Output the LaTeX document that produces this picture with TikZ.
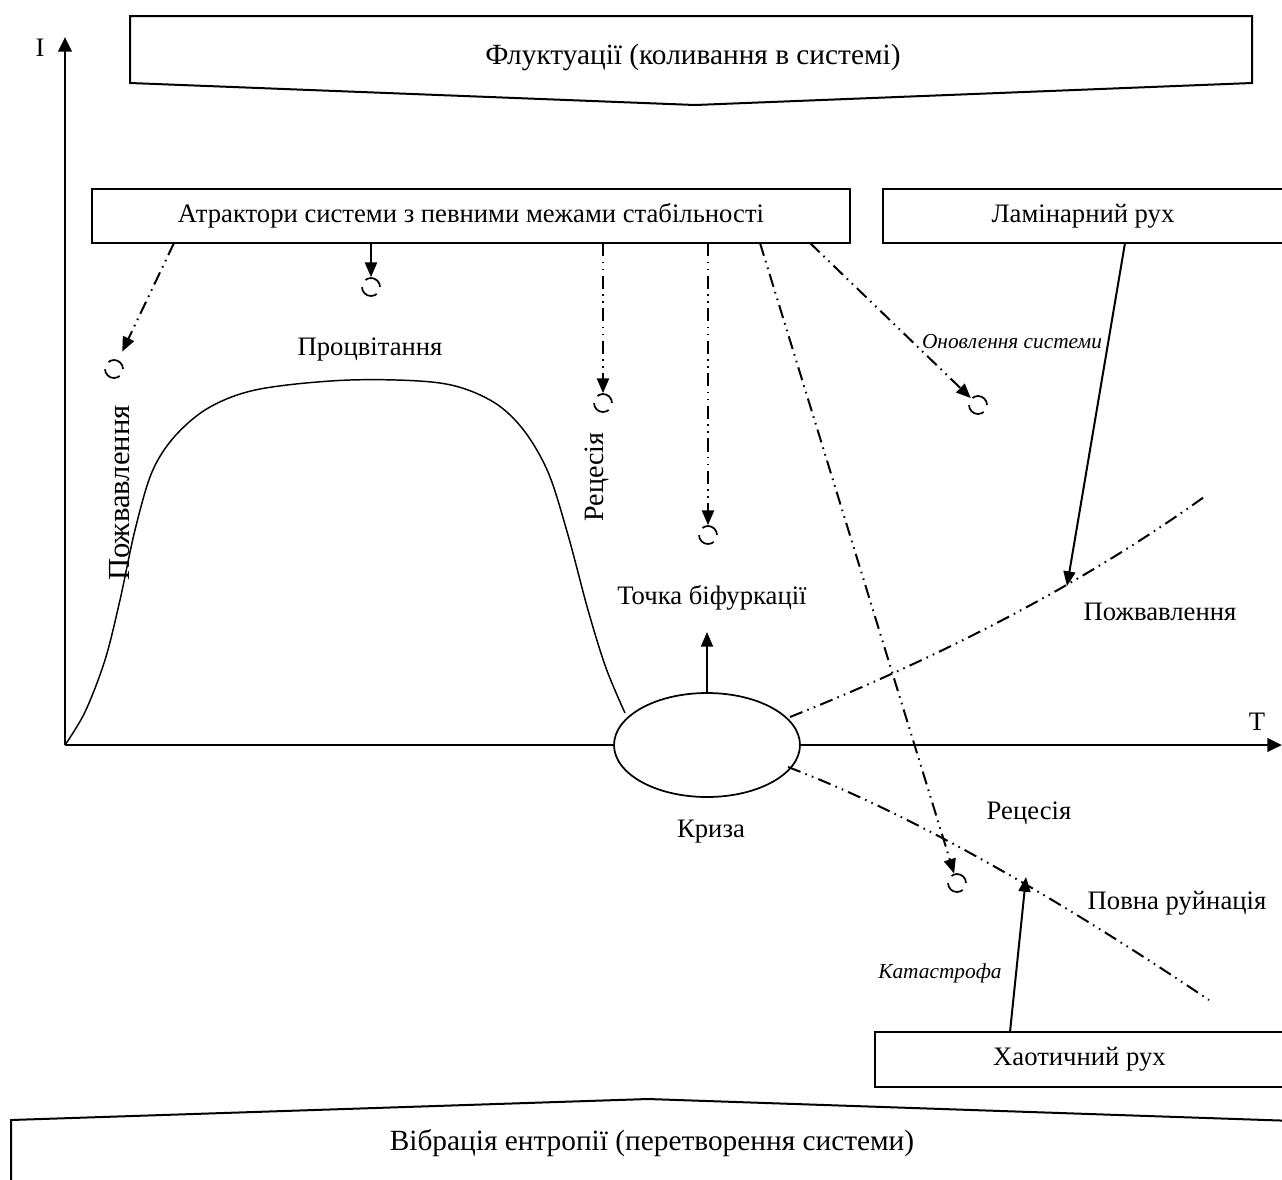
\documentclass[tikz,border=0pt]{standalone}
\usepackage{fontspec}
\setmainfont{Liberation Serif}
\usetikzlibrary{shapes.geometric,arrows.meta}
\begin{document}
\begin{tikzpicture}[x=0.75pt,y=-0.75pt,
  lbl/.style={font=\fontsize{20}{24}\selectfont, inner sep=0pt},
  ttl/.style={font=\fontsize{22}{26}\selectfont, inner sep=0pt},
  ital/.style={font=\fontsize{16}{19}\selectfont\itshape, inner sep=0pt},
  boxline/.style={line width=1.5pt},
  rbox/.style={draw, line width=1.5pt, font=\fontsize{20}{24}\selectfont, inner sep=0pt, minimum height=40.5pt},
  tri/.style={-{Triangle[length=11pt,width=9pt]}},
  axtri/.style={-{Triangle[length=11pt,width=10pt]}},
  ddot/.style={line width=1.5pt, dash pattern=on 10pt off 4pt on 1.2pt off 4pt on 1.2pt off 4pt},
  solidarr/.style={line width=1.5pt},
  attcirc/.style={circle, draw, line width=1.3pt, minimum size=13.5pt, inner sep=0pt, dash pattern=on 15pt off 6.2pt},
]
\useasboundingbox (0,0) rectangle (1282,1179);

% top shape
\draw[boxline] (130,16) -- (1252,16) -- (1252,83) -- (695,105) -- (130,83) -- cycle;
\node[ttl] (fluct) at (693,57) {Флуктуації (коливання в системі)};

% bottom shape
\draw[boxline] (11,1190) -- (11,1120) -- (648,1099) -- (1295,1121) -- (1295,1190);
\node[ttl] (vibr) at (652,1143) {Вібрація ентропії (перетворення системи)};

% axes
\coordinate (O) at (65,745);
\coordinate (ytip) at (65,37);
\coordinate (xtip) at (1282,745);
\draw[line width=2.2pt, axtri] (O) -- (ytip);
\draw[line width=2.2pt, axtri] (O) -- (xtip);
\node[lbl] (Ilab) at (40,48) {I};
\node[lbl] (Tlab) at (1257,722) {T};

% main curve
\draw[line width=1.1pt] plot[smooth, tension=0.55] coordinates {(65,745) (85,712) (105,660) (120,600) (135,530) (152,472) (175,436) (210,407) (260,389) (350,380) (440,383) (490,400) (522,428) (548,472) (568,535) (588,610) (606,668) (625,713)};

% crisis ellipse
\node[ellipse, draw, fill=white, line width=1.3pt, minimum width=139.5pt, minimum height=78pt] (kr) at (707,745) {};
\node[lbl] (krlab) at (711,832) {Криза};

% bifurcation
\node[lbl] (bif) at (712,598) {Точка біфуркації};
\coordinate (biftip) at (707,632);
\draw[solidarr, tri] (kr.north) -- (biftip);

% boxes
\node[rbox, minimum width=568.5pt] (attr) at (471,216) {Атрактори системи з певними межами стабільності};
\node[rbox, minimum width=300pt] (lam) at (1083,216) {Ламінарний рух};
\node[rbox, minimum width=306.75pt, minimum height=41.25pt] (chaos) at (1079.5,1059.5) {Хаотичний рух};

% attractor circles
\node[attcirc] (c1) at (114,369) {};
\node[attcirc] (c2) at (371,287) {};
\node[attcirc] (c3) at (603,403) {};
\node[attcirc] (c4) at (708,535) {};
\node[attcirc] (c5) at (957,883) {};
\node[attcirc] (c6) at (978,405) {};

% start points on the attractor box
\coordinate (s1) at (174,243);
\coordinate (s2) at (371,243);
\coordinate (s3) at (603,243);
\coordinate (s4) at (708,243);
\coordinate (s5) at (760,243);
\coordinate (s6) at (810,243);

\draw[ddot, tri, shorten >=7pt] (s1) -- (c1);
\draw[solidarr, tri] (s2) -- (c2);
\draw[ddot, tri] (s3) -- (c3);
\draw[ddot, tri] (s4) -- (c4);
\draw[ddot, tri] (s5) -- (c5);
\draw[ddot, tri] (s6) -- (c6);

% labels
\node[lbl] (procv) at (370,350) {Процвітання};
\node[lbl, rotate=90, font=\fontsize{23}{27}\selectfont] (pozhv1) at (120,493) {Пожвавлення};
\node[lbl, rotate=90, font=\fontsize{21}{25}\selectfont] (rec1) at (597,477) {Рецесія};
\node[ital] (onovl) at (1012,342) {Оновлення системи};

% branches out of the crisis
\coordinate (up0) at (790,717);
\coordinate (up1) at (1204,497);
\coordinate (dn0) at (788,767);
\coordinate (dn1) at (1209,1000);
\draw[ddot] (up0) .. controls (953,652) and (1091,578) .. (up1);
\draw[ddot] (dn0) .. controls (901,810) and (1041,887) .. (dn1);

\node[lbl] (pozhv2) at (1160,612) {Пожвавлення};
\node[lbl] (rec2) at (1029,813) {Рецесія};
\node[lbl] (ruin) at (1177,903) {Повна руйнація};
\node[ital] (katas) at (940,973) {Катастрофа};

% laminar and chaotic arrows
\coordinate (lams) at (1125,243);
\coordinate (lamtip) at (1067,586);
\draw[solidarr, tri] (lams) -- (lamtip);
\coordinate (chs) at (1010,1032);
\coordinate (chtip) at (1026,877);
\draw[solidarr, tri] (chs) -- (chtip);
\end{tikzpicture}
\end{document}
